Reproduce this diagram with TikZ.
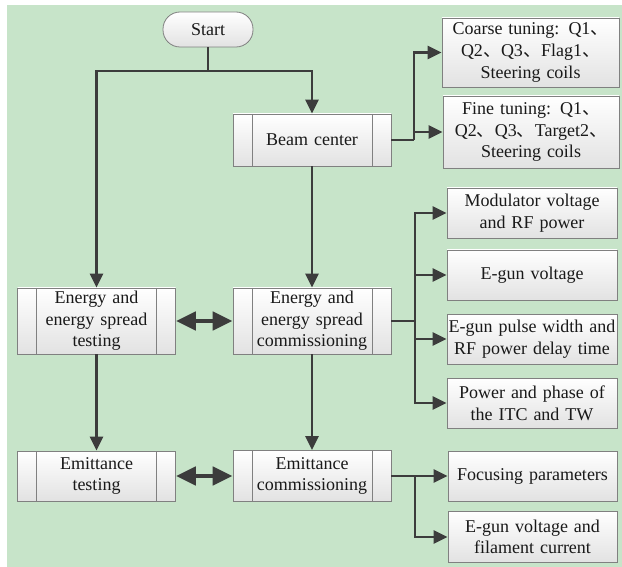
\documentclass[tikz,border=0pt]{standalone}
\usepackage{fontspec}
\setmainfont{Liberation Serif}
\newfontfamily\cjk{Noto Sans CJK SC}
\usetikzlibrary{arrows.meta}
\definecolor{bg1}{HTML}{C7E4C9}
\definecolor{edge1}{HTML}{808080}
\definecolor{line1}{HTML}{3C3C3C}
\definecolor{fill1}{HTML}{E2E2E2}
\newcommand{\dun}{{\cjk 、}}

\tikzset{
  box/.style={draw=edge1, line width=0.8pt, top color=white, bottom color=fill1,
    inner sep=0pt, align=center, text=black!90, font=\fontsize{18}{21.6}\selectfont},
  startbox/.style={box, rounded corners=17pt, minimum width=90pt, minimum height=35pt},
  procbox/.style={box, minimum width=158pt, text width=118pt,
    path picture={\draw[edge1, line width=0.8pt]
      ([xshift=19pt]path picture bounding box.north west) -- ([xshift=19pt]path picture bounding box.south west)
      ([xshift=-19pt]path picture bounding box.north east) -- ([xshift=-19pt]path picture bounding box.south east);}},
  itembox/.style={box, minimum width=170pt, text width=168pt, minimum height=50pt},
  flow/.style={draw=line1, line width=2.3pt, -{Triangle[length=14pt,width=13pt]}},
  link/.style={draw=line1, line width=2.3pt},
  both/.style={draw=line1, line width=4.5pt, {Triangle[length=20pt,width=18pt]}-{Triangle[length=20pt,width=18pt]}}
}

\begin{document}
\begin{tikzpicture}[x=1pt,y=-1pt]
\useasboundingbox (0,0) rectangle (622,567);
\fill[bg1] (7,5) rectangle (622,567);
% main column
\node[startbox] (start) at (208,29.5) {Start};
\node[procbox, minimum height=52pt] (beam) at (312,140) {Beam center};
\node[procbox, minimum height=66pt] (etest) at (96.5,321) {Energy and\\energy spread\\testing};
\node[procbox, minimum height=66pt] (ecom) at (312,321) {Energy and\\energy spread\\commissioning};
\node[procbox, minimum height=50pt] (emtest) at (96.5,476) {Emittance\\testing};
\node[procbox, minimum height=51pt] (emcom) at (312,476) {Emittance\\commissioning};
% tuning items
\node[itembox, minimum width=177pt, minimum height=69pt] (coarse) at (530.5,52.5) {Coarse tuning: Q1\dun\\Q2\dun Q3\dun Flag1\dun\\Steering coils};
\node[itembox, minimum width=176pt, minimum height=72pt] (fine) at (531,132) {Fine tuning: Q1\dun\\Q2\dun Q3\dun Target2\dun\\Steering coils};
\node[itembox] (modv) at (532,213) {Modulator voltage\\and RF power};
\node[itembox] (egunv) at (532,275) {E-gun voltage};
\node[itembox] (pulse) at (532,339) {E-gun pulse width and\\RF power delay time};
\node[itembox] (phase) at (532,403) {Power and phase of\\the ITC and TW};
\node[itembox, minimum width=169pt] (focus) at (532.5,476) {Focusing parameters};
\node[itembox, minimum width=169pt, minimum height=51pt] (filament) at (532.5,537) {E-gun voltage and\\filament current};
% branch points
\coordinate (split1) at (208,71);
\coordinate (bsplit) at (414,140);
\coordinate (esplit) at (415,321);
\coordinate (msplit) at (415,476);
% connectors
\draw[link] (start) -- (split1);
\draw[flow] (split1) -| (beam.north);
\draw[flow] (split1) -| (etest.north);
\draw[flow] (beam) -- (ecom);
\draw[flow] (etest) -- (emtest);
\draw[flow] (ecom) -- (emcom);
\draw[link] (beam.east) -- (bsplit);
\draw[flow] (bsplit) |- (coarse.west);
\draw[flow] (bsplit) |- (fine.west);
\draw[link] (ecom.east) -- (esplit);
\draw[flow] (esplit) |- (modv.west);
\draw[flow] (esplit) |- (egunv.west);
\draw[flow] (esplit) |- (pulse.west);
\draw[flow] (esplit) |- (phase.west);
\draw[link] (emcom.east) -- (msplit);
\draw[flow] (msplit) -- (focus.west);
\draw[flow] (msplit) |- (filament.west);
\draw[both] (etest.east) -- (ecom.west);
\draw[both] (emtest.east) -- (emcom.west);
\end{tikzpicture}
\end{document}
